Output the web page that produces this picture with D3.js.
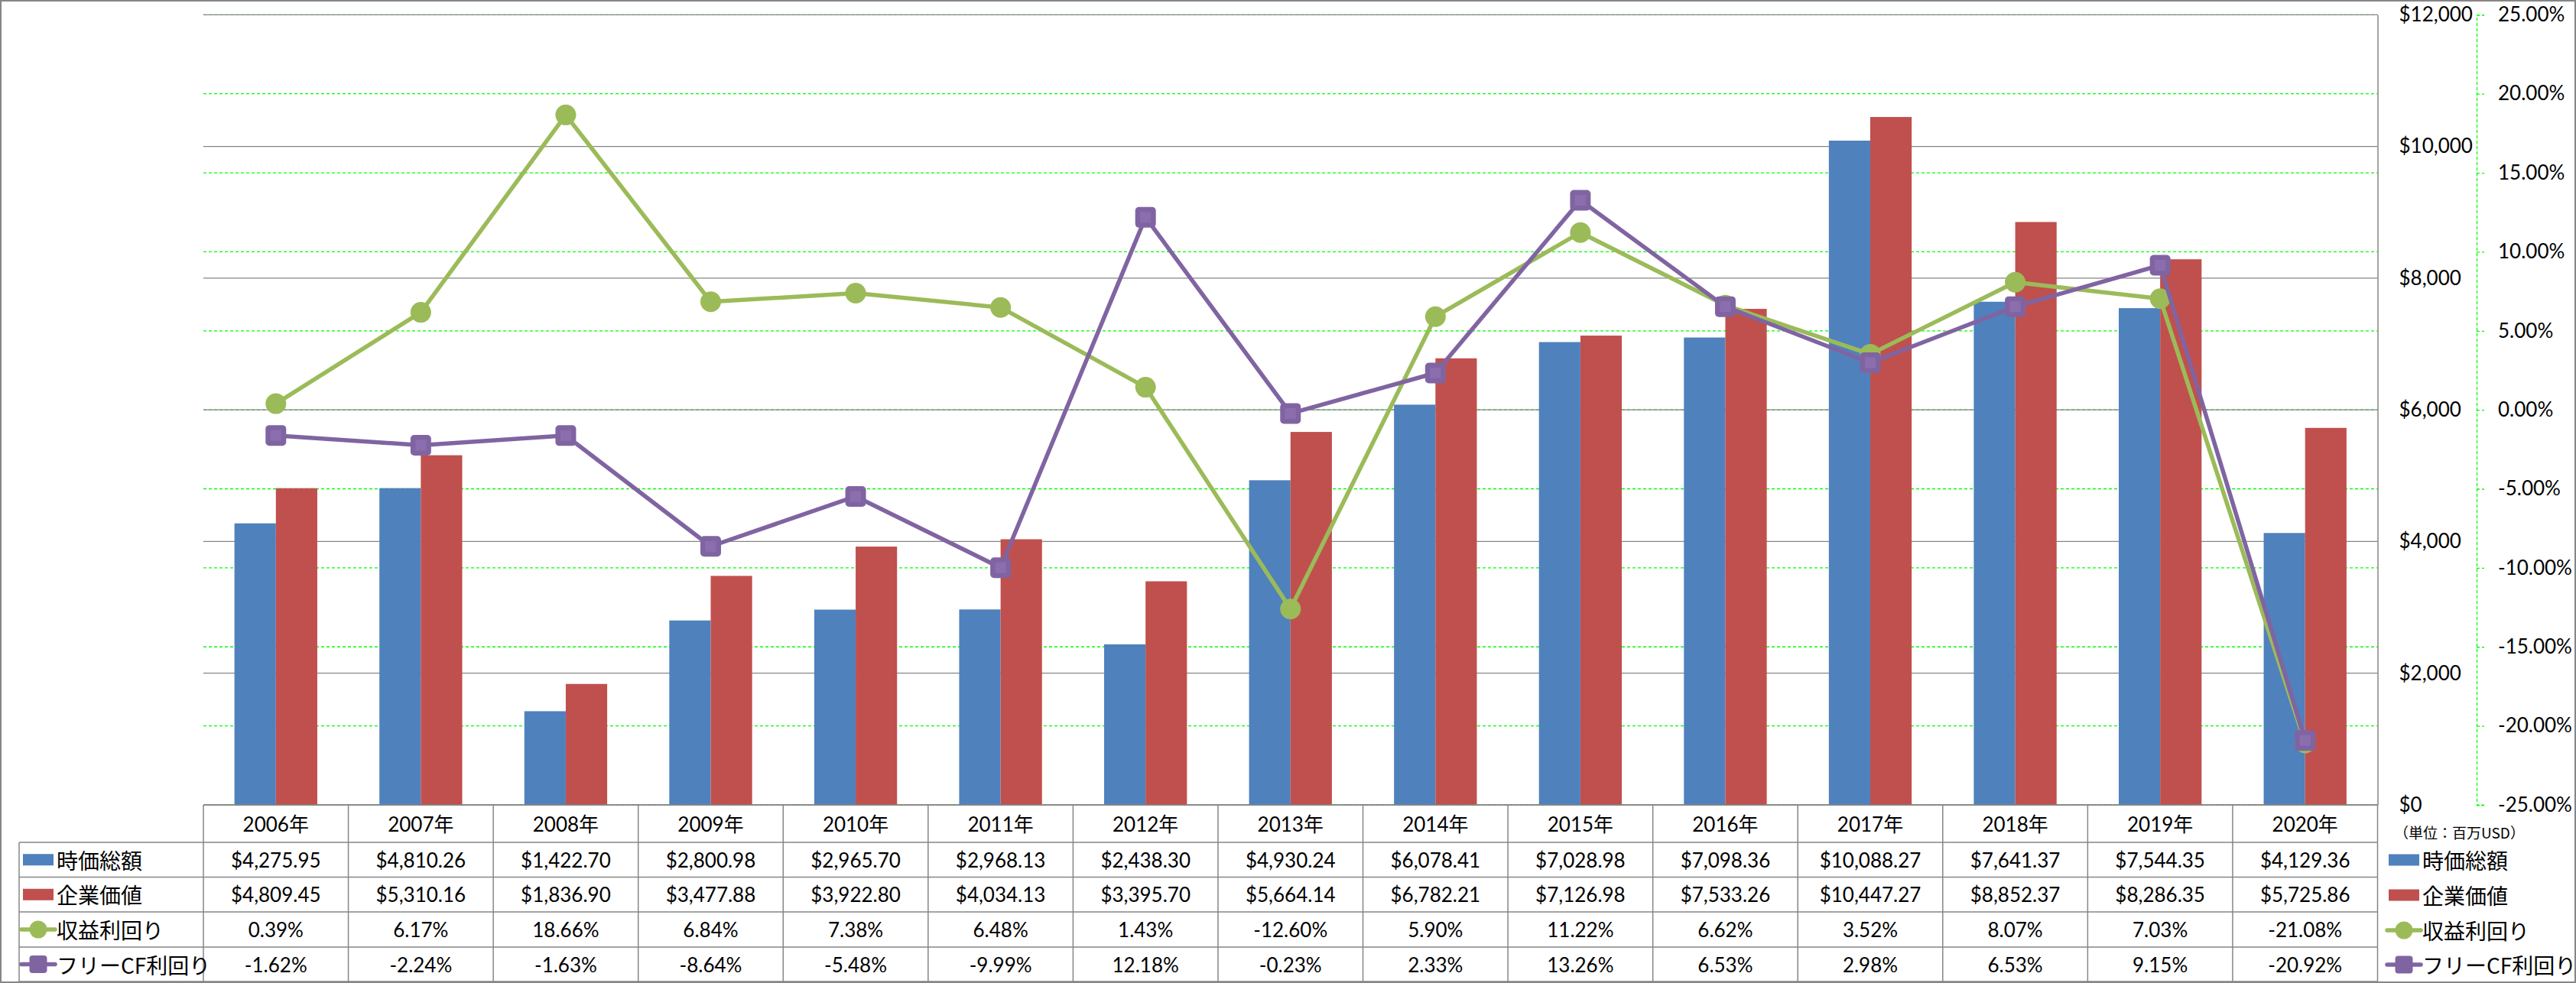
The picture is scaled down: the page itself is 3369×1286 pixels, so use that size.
<!DOCTYPE html>
<html>
<head>
<meta charset="utf-8">
<script src="https://cdn.jsdelivr.net/npm/d3@7"></script>
<style>
  html, body { margin: 0; padding: 0; background: #fff; }
  svg { display: block; }
  text { font-family: Lato, "Noto Sans CJK JP", sans-serif; fill: #000; }
  .jp { font-family: "Noto Sans CJK JP", sans-serif; }
</style>
</head>
<body>
<svg id="chart" width="3369" height="1286"></svg>
<script>
// ---------------- data ----------------
const years = ["2006年","2007年","2008年","2009年","2010年","2011年","2012年","2013年","2014年","2015年","2016年","2017年","2018年","2019年","2020年"];
const marketCap = [4275.95, 4810.26, 1422.70, 2800.98, 2965.70, 2968.13, 2438.30, 4930.24, 6078.41, 7028.98, 7098.36, 10088.27, 7641.37, 7544.35, 4129.36];
const enterpriseValue = [4809.45, 5310.16, 1836.90, 3477.88, 3922.80, 4034.13, 3395.70, 5664.14, 6782.21, 7126.98, 7533.26, 10447.27, 8852.37, 8286.35, 5725.86];
const earningsYield = [0.39, 6.17, 18.66, 6.84, 7.38, 6.48, 1.43, -12.60, 5.90, 11.22, 6.62, 3.52, 8.07, 7.03, -21.08];
const fcfYield = [-1.62, -2.24, -1.63, -8.64, -5.48, -9.99, 12.18, -0.23, 2.33, 13.26, 6.53, 2.98, 6.53, 9.15, -20.92];
const seriesNames = ["時価総額", "企業価値", "収益利回り", "フリーCF利回り"];
const leftTicks = [0, 2000, 4000, 6000, 8000, 10000, 12000];
const rightTicks = [-25, -20, -15, -10, -5, 0, 5, 10, 15, 20, 25];
const unitLabel = "（単位：百万USD）";

// ---------------- styles ----------------
const C = { blue: "#4F81BD", red: "#C0504D", green: "#9BBB59", purple: "#8064A2",
            grid: "#868686", dash: "#00FF00", neg: "#FF0000" };

const W = 3369, H = 1286;
const plot = { left: 266, right: 3109.5, top: 19.3, bottom: 1053 };
const tableRows = [1053, 1102, 1147.5, 1193, 1239, 1284];
const tableLeft = 25;

const loc = d3.formatLocale({ decimal: ".", thousands: ",", grouping: [3], currency: ["$", ""], minus: "-" });
const fmtMoney = loc.format("$,.2f");
const fmtAxis = loc.format("$,.0f");
const fmtPct = v => loc.format(".2f")(v) + "%";

const svg = d3.select("#chart");

// scales
const x0 = d3.scaleBand().domain(years).range([plot.left, plot.right]).paddingInner(0).paddingOuter(0);
const bw = x0.bandwidth();
const barW = bw / 3.5;
const x1 = d3.scaleBand().domain([0, 1]).range([(bw - 2 * barW) / 2, (bw + 2 * barW) / 2]);
const y = d3.scaleLinear().domain([0, 12000]).range([plot.bottom, plot.top]);
const y2 = d3.scaleLinear().domain([-25, 25]).range([plot.bottom, plot.top]);

// secondary gridlines (green dashed)
svg.append("g").selectAll("line").data(rightTicks).join("line")
  .attr("x1", plot.left).attr("x2", plot.right)
  .attr("y1", d => y2(d)).attr("y2", d => y2(d))
  .attr("stroke", C.dash).attr("stroke-width", 1.3).attr("stroke-dasharray", "4,3");

// primary gridlines (grey)
svg.append("g").selectAll("line").data(leftTicks).join("line")
  .attr("x1", plot.left).attr("x2", plot.right)
  .attr("y1", d => y(d)).attr("y2", d => y(d))
  .attr("stroke", C.grid).attr("stroke-width", 1.3);

// bars
const barData = years.map((yr, i) => ({ yr, vals: [marketCap[i], enterpriseValue[i]] }));
const g = svg.append("g");
g.selectAll("g").data(barData).join("g")
  .attr("transform", d => `translate(${x0(d.yr)},0)`)
  .selectAll("rect").data(d => d.vals.map((v, k) => ({ v, k }))).join("rect")
  .attr("x", d => x1(d.k)).attr("width", x1.bandwidth())
  .attr("y", d => y(d.v)).attr("height", d => y(0) - y(d.v))
  .attr("fill", d => d.k === 0 ? C.blue : C.red);

// lines
const cx = yr => x0(yr) + bw / 2;
function drawLine(vals, color, marker) {
  const pts = years.map((yr, i) => [cx(yr), y2(vals[i])]);
  svg.append("path").attr("d", d3.line()(pts)).attr("fill", "none")
    .attr("stroke", color).attr("stroke-width", 5.5).attr("stroke-linejoin", "round");
  const mg = svg.append("g");
  if (marker === "circle") {
    mg.selectAll("circle").data(pts).join("circle")
      .attr("cx", d => d[0]).attr("cy", d => d[1]).attr("r", 13.5).attr("fill", color);
  } else {
    mg.selectAll("rect.o").data(pts).join("rect").attr("class", "o")
      .attr("x", d => d[0] - 13.5).attr("y", d => d[1] - 13.5).attr("width", 27).attr("height", 27)
      .attr("rx", 5).attr("fill", color);
    mg.selectAll("rect.i").data(pts).join("rect").attr("class", "i")
      .attr("x", d => d[0] - 7).attr("y", d => d[1] - 7).attr("width", 14).attr("height", 14)
      .attr("fill", "#8A6EAE");
  }
}
drawLine(earningsYield, C.green, "circle");
drawLine(fcfYield, C.purple, "square");

// primary axis (right of plot)
const axL = svg.append("g").attr("transform", `translate(${plot.right},0)`)
  .call(d3.axisRight(y).tickValues(leftTicks).tickFormat(fmtAxis).tickSize(0).tickPadding(28));
axL.select(".domain").attr("stroke", C.grid).attr("stroke-width", 1.5);
axL.selectAll("text").attr("font-size", 26).attr("font-family", "Lato, sans-serif").attr("fill", "#000");

// secondary axis
const axR = svg.append("g").attr("transform", `translate(3239,0)`)
  .call(d3.axisRight(y2).tickValues(rightTicks).tickFormat(fmtPct).tickSize(10).tickPadding(18));
axR.select(".domain").attr("stroke", C.dash).attr("stroke-width", 1.3).attr("stroke-dasharray", "4,3");
axR.selectAll(".tick line").attr("stroke", C.dash).attr("stroke-width", 1.3).attr("stroke-dasharray", "4,3");
axR.selectAll("text").attr("font-size", 26).attr("font-family", "Lato, sans-serif")
  .attr("fill", d => d < 0 ? C.neg : "#000");

// ---------------- data table ----------------
const tg = svg.append("g");
const lineAttr = s => s.attr("stroke", C.grid).attr("stroke-width", 1.5);
// horizontal lines
tg.append("line").attr("x1", plot.left).attr("x2", plot.right).attr("y1", tableRows[0]).attr("y2", tableRows[0]).call(lineAttr);
tableRows.slice(1).forEach(r => tg.append("line").attr("x1", tableLeft).attr("x2", plot.right).attr("y1", r).attr("y2", r).call(lineAttr));
// vertical lines
tg.append("line").attr("x1", tableLeft).attr("x2", tableLeft).attr("y1", tableRows[1]).attr("y2", tableRows[5]).call(lineAttr);
const colEdges = years.map(yr => x0(yr)).concat([plot.right]);
tg.selectAll("line.v").data(colEdges).join("line").attr("class", "v")
  .attr("x1", d => d).attr("x2", d => d).attr("y1", tableRows[0]).attr("y2", tableRows[5]).call(lineAttr);

const rowMid = k => (tableRows[k] + tableRows[k + 1]) / 2;
// header
tg.selectAll("text.h").data(years).join("text").attr("class", "h")
  .attr("x", d => cx(d)).attr("y", rowMid(0)).attr("text-anchor", "middle")
  .attr("dominant-baseline", "central").attr("font-size", 26).text(d => d);
const rowsData = [
  marketCap.map(fmtMoney), enterpriseValue.map(fmtMoney),
  earningsYield.map(fmtPct), fcfYield.map(fmtPct)
];
rowsData.forEach((vals, k) => {
  tg.selectAll("text.r" + k).data(vals).join("text").attr("class", "r" + k)
    .attr("x", (d, i) => cx(years[i])).attr("y", rowMid(k + 1)).attr("text-anchor", "middle")
    .attr("dominant-baseline", "central").attr("font-size", 26).text(d => d);
});

// legend keys (table left and right legend)
const colors = [C.blue, C.red, C.green, C.purple];
function legendKey(gx, x, yc, k) {
  if (k < 2) {
    gx.append("rect").attr("x", x).attr("y", yc - 7.5).attr("width", 40).attr("height", 15).attr("fill", colors[k]);
  } else {
    gx.append("line").attr("x1", x - 2).attr("x2", x + 42).attr("y1", yc).attr("y2", yc)
      .attr("stroke", colors[k]).attr("stroke-width", 5.5).attr("stroke-linecap", "round");
    if (k === 2) gx.append("circle").attr("cx", x + 20).attr("cy", yc).attr("r", 11.5).attr("fill", colors[k]);
    else gx.append("rect").attr("x", x + 8.5).attr("y", yc - 11.5).attr("width", 23).attr("height", 23).attr("rx", 4).attr("fill", colors[k]);
  }
}
seriesNames.forEach((name, k) => {
  const yc = rowMid(k + 1);
  legendKey(tg, 30, yc, k);
  tg.append("text").attr("class", "jp").attr("x", 74).attr("y", yc).attr("dominant-baseline", "central")
    .attr("font-size", 28).text(name);
});

// right legend
const lg = svg.append("g");
lg.append("text").attr("class", "jp").attr("x", 3131).attr("y", 1088).attr("dominant-baseline", "central")
  .attr("font-size", 19).text(unitLabel);
const legY = [1125, 1171, 1217, 1262];
seriesNames.forEach((name, k) => {
  legendKey(lg, 3124, legY[k], k);
  lg.append("text").attr("class", "jp").attr("x", 3168).attr("y", legY[k]).attr("dominant-baseline", "central")
    .attr("font-size", 28).text(name);
});

// outer border
svg.append("rect").attr("x", 1).attr("y", 1).attr("width", W - 2).attr("height", H - 2)
  .attr("fill", "none").attr("stroke", C.grid).attr("stroke-width", 2);
</script>
</body>
</html>
